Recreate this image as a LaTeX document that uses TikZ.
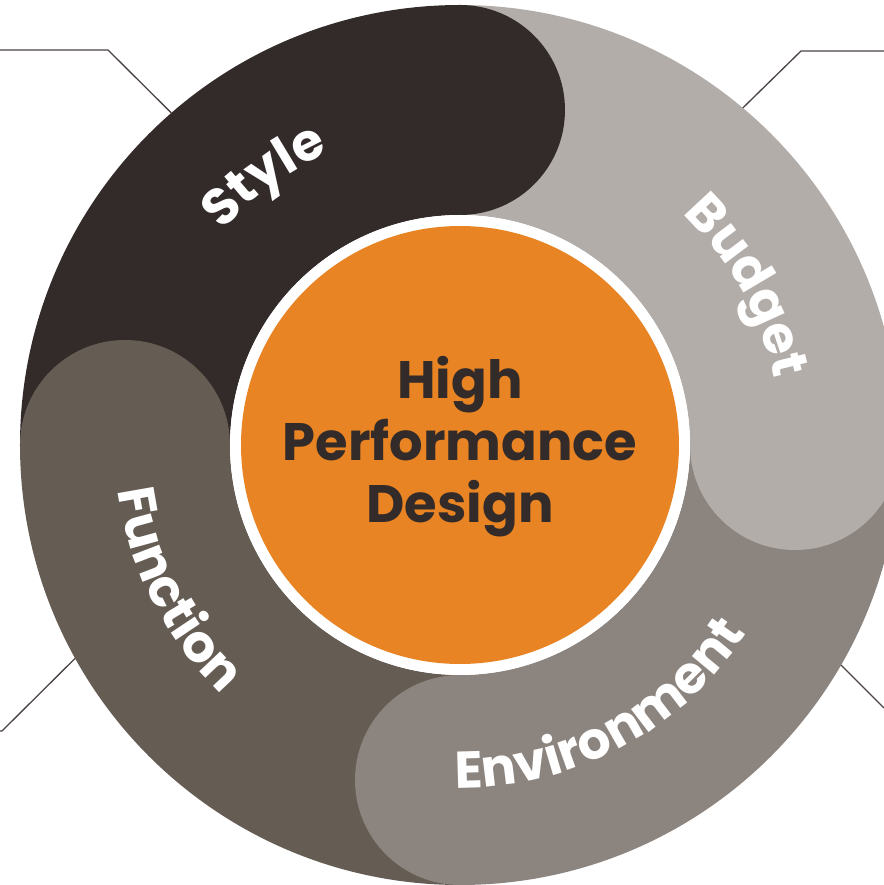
\documentclass[tikz,border=0pt]{standalone}
\usepackage{fontspec}
\setmainfont{Poppins}
\usetikzlibrary{decorations.text}

\definecolor{styleband}{HTML}{322B29}
\definecolor{budgetband}{HTML}{B3ADAA}
\definecolor{envband}{HTML}{8C847F}
\definecolor{funcband}{HTML}{655C53}
\definecolor{coreorange}{HTML}{E88424}
\definecolor{calloutline}{HTML}{4B4443}

\newcommand{\bandfont}{\bfseries\fontsize{29.5}{33}\selectfont}

\tikzset{
	bandlabel/.style = {decorate, decoration = {text along path, text align = center, text color = white}},
	callout/.style = {draw = calloutline, line width = 0.75pt},
}

\begin{document}
\begin{tikzpicture}[x=0.02cm, y=0.02cm]
	\useasboundingbox (-460, -440) rectangle (424, 445);

	% quarter bands, then the round ends laid over the next band
	\foreach \a/\col in {180/styleband, 90/budgetband, 0/envband, -90/funcband} {
		\fill[fill = \col] (\a:230) arc[start angle = \a, end angle = \a-90, radius = 230]
		  -- (\a-90:440) arc[start angle = \a-90, end angle = \a, radius = 440]
		  -- cycle;
	}
	\foreach \a/\col in {90/styleband, 0/budgetband, -90/envband, 180/funcband}
		\fill[fill = \col] (\a:335) circle[radius = 105];

	\fill[fill = white] (0, 0) circle[radius = 230];
	\fill[fill = coreorange] (0, 0) circle[radius = 219];

	\node[text = styleband, align = center, font = \bfseries\fontsize{30}{35.3}\selectfont] (core) at (0, -2) {High\\Performance\\Design};

	\path[bandlabel, decoration = {text = {|\bandfont|Style}}] (166:320) arc[start angle = 166, end angle = 86, radius = 320];
	\path[bandlabel, decoration = {text = {|\bandfont|Budget}}] (69:321) arc[start angle = 69, end angle = -11, radius = 321];
	\path[bandlabel, decoration = {text = {|\bandfont|Environment}}] (-112:343) arc[start angle = -112, end angle = -12, radius = 343];
	\path[bandlabel, decoration = {text = {|\bandfont|Function}}] (167:345) arc[start angle = 167, end angle = 247, radius = 345];

	% callout leaders
	\coordinate (tl) at (131:440);
	\coordinate (tlknee) at (-352, 395);
	\coordinate (tlend) at (-460, 395);
	\coordinate (tr) at (50:440);
	\coordinate (trknee) at (341, 394);
	\coordinate (trend) at (424, 394);
	\coordinate (br) at (-30:440);
	\coordinate (brend) at (424, -263);
	\coordinate (bl) at (209:440);
	\coordinate (blknee) at (-458, -286);
	\coordinate (blend) at (-460, -286);

	\draw[callout] (tl) -- (tlknee) -- (tlend);
	\draw[callout] (tr) -- (trknee) -- (trend);
	\draw[callout] (br) -- (brend);
	\draw[callout] (bl) -- (blknee) -- (blend);
\end{tikzpicture}
\end{document}
